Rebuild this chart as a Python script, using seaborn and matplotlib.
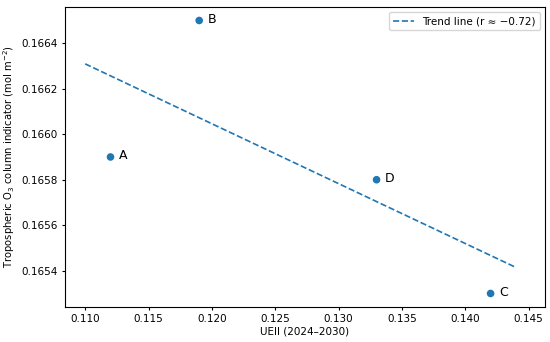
import numpy as np
import pandas as pd
import matplotlib
matplotlib.use("Agg")
import matplotlib.pyplot as plt
import seaborn as sns

# site labels and values
labels = ["A", "B", "C", "D"]
ueii = [0.112, 0.119, 0.142, 0.133]
o3_column = [0.1659, 0.1665, 0.1653, 0.1658]

df = pd.DataFrame({"label": labels, "ueii": ueii, "o3": o3_column})

# least-squares trend over the x span shown
slope, intercept = np.polyfit(df["ueii"], df["o3"], 1)
r = np.corrcoef(df["ueii"], df["o3"])[0, 1]
x_line = np.linspace(0.110, 0.144, 2)
trend = pd.DataFrame({"x": x_line, "y": slope * x_line + intercept})

fig, ax = plt.subplots(figsize=(5.5, 3.42), dpi=100)

sns.scatterplot(data=df, x="ueii", y="o3", color="#1f77b4", s=30,
                edgecolor="none", ax=ax)
sns.lineplot(data=trend, x="x", y="y", color="#1f77b4", linestyle="--",
             linewidth=1.2, label=f"Trend line (r \u2248 \u2212{abs(r):.2f})", ax=ax)

for _, row in df.iterrows():
    ax.annotate(row["label"], (row["ueii"], row["o3"]),
                xytext=(6, 1), textcoords="offset points", fontsize=9,
                va="center")

ax.set_xlabel("UEII (2024\u20132030)", fontsize=7.5, labelpad=2)
ax.set_ylabel("Tropospheric O$_3$ column indicator (mol m$^{-2}$)",
              fontsize=7.2, labelpad=3)
ax.tick_params(labelsize=7.5, length=2.5, pad=2.5)
ax.set_xticks([0.110, 0.115, 0.120, 0.125, 0.130, 0.135, 0.140, 0.145])
ax.set_yticks([0.1654, 0.1656, 0.1658, 0.1660, 0.1662, 0.1664])
ax.set_xlim(0.1084, 0.1463)
ax.set_ylim(0.16524, 0.16656)
ax.legend(loc="upper right", fontsize=7.5)

fig.subplots_adjust(left=0.118, right=0.991, top=0.98, bottom=0.102)
fig.savefig("out.png", dpi=100)
